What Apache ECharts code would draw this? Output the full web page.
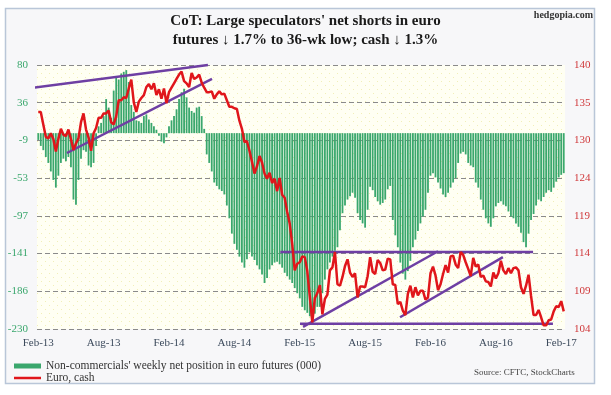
<!DOCTYPE html>
<html><head><meta charset="utf-8">
<script src="https://cdn.jsdelivr.net/npm/echarts@6/dist/echarts.min.js"></script>
<style>html,body{margin:0;padding:0;background:#fff}#c{width:611px;height:395px}</style>
</head><body><div id="c"></div>
<script>
// ---- data ----
const startDate = '2013-02-08';           // first weekly observation
const nWeeks = 210;
const xTickLabels = ['Feb-13','Aug-13','Feb-14','Aug-14','Feb-15','Aug-15','Feb-16','Aug-16','Feb-17'];
const leftTicks  = [-230,-186,-141,-97,-53,-9,36,80];
const rightTicks = [104,109,114,119,124,130,135,140];

// Non-commercials' weekly net position in euro futures (000)
const netPosition = [
 -8,-15,-20,-28,-35,-45,-55,-64,-50,-35,-30,-33,-28,-40,-78,-84,-55,-30,-20,-22,
 -38,-40,-35,-15,8,12,20,40,30,18,50,65,63,70,72,74,60,33,25,15,
 14,12,20,22,16,12,8,4,-3,-10,-12,-5,8,15,20,28,40,48,52,42,
 30,26,24,30,31,20,5,-25,-35,-45,-58,-62,-66,-68,-72,-85,-100,-118,-130,-137,
 -145,-152,-158,-148,-140,-145,-149,-155,-160,-166,-176,-170,-160,-155,-152,-151,-154,-158,-164,-168,
 -172,-176,-182,-188,-194,-204,-208,-211,-215,-219,-212,-204,-204,-188,-172,-160,-152,-145,-138,-134,
 -114,-94,-85,-78,-74,-70,-76,-94,-102,-106,-111,-90,-63,-67,-75,-80,-84,-82,-78,-66,
 -62,-102,-120,-134,-152,-165,-172,-162,-150,-134,-125,-115,-106,-98,-90,-70,-50,-47,-52,-58,
 -65,-72,-75,-70,-64,-58,-53,-35,-24,-22,-25,-35,-38,-40,-58,-64,-78,-90,-100,-106,
 -110,-100,-86,-82,-80,-84,-86,-92,-98,-100,-106,-110,-117,-128,-134,-118,-102,-95,-85,-78,
 -80,-75,-70,-67,-69,-64,-57,-52,-49,-47,-46
];

// Euro, cash (x100)
const euroCash = [
 133.6,133.6,131.9,130.2,130.0,130.7,129.9,128.2,129.9,131.3,130.5,130.3,131.2,129.9,128.4,129.3,130.0,132.2,133.4,131.2,
 130.1,128.3,130.7,131.4,132.8,132.8,133.4,133.4,133.8,132.2,131.9,133.0,135.2,135.2,135.6,135.5,136.8,138.0,134.9,133.6,
 135.0,135.5,135.9,137.0,137.4,136.7,137.5,
 135.9,136.7,135.4,136.8,134.8,136.3,136.9,137.5,138.1,138.7,139.1,137.8,137.5,137.0,138.9,138.1,138.3,138.7,137.6,136.9,
 136.3,136.3,136.4,135.4,136.0,136.4,136.0,136.1,135.2,134.3,134.3,134.1,134.0,132.4,131.3,129.5,129.6,128.3,126.8,125.2,
 126.2,127.6,126.7,125.2,124.5,125.3,123.9,124.5,122.8,124.6,122.3,121.9,
 120.0,118.4,115.6,112.0,112.9,113.1,113.9,113.8,111.9,108.4,104.9,108.2,108.9,110.0,106.0,108.1,108.7,112.0,112.4,114.5,
 110.1,109.9,111.1,112.6,113.5,111.7,111.1,111.6,108.3,109.8,109.8,109.7,111.2,113.8,111.8,111.5,113.4,113.0,112.0,112.1,
 113.6,113.5,110.1,110.0,107.4,107.7,106.5,105.9,108.8,109.9,108.3,109.7,
 108.6,109.2,109.2,108.0,108.3,111.6,112.5,111.3,109.3,110.1,111.5,112.7,111.7,113.9,114.0,112.8,112.3,114.5,114.1,113.1,
 112.2,111.2,113.7,112.5,112.8,111.1,111.3,110.5,110.4,109.8,111.7,110.9,111.6,113.3,112.0,111.5,112.3,111.6,112.3,112.4,
 112.0,109.7,108.8,109.9,111.4,108.5,105.9,105.9,106.6,105.6,104.5,104.5,105.2,
 105.3,106.4,107.1,107.0,107.8,106.4
];

// Trend lines drawn on the chart: [weekIndex, euro value] pairs
const trendLines = [
 [[-2.1,136.9],[67.5,140.0]],
 [[11.4,128.0],[69.1,138.1]],
 [[96.3,114.5],[196.8,114.5]],
 [[104.1,104.7],[204.7,104.7]],
 [[105.3,104.3],[159.0,114.6]],
 [[143.9,105.6],[184.8,113.8]]
];

const barName = "Non-commercials' weekly net position in euro futures (000)";
const lineName = 'Euro, cash';

// ---- build ----
const weeks = [];
{
  const d0 = new Date(startDate + 'T00:00:00Z');
  for (let i = 0; i < nWeeks; i++) {
    const d = new Date(d0.getTime() + i * 7 * 86400000);
    weeks.push(d.toISOString().slice(0, 10));
  }
}
const LMIN = -230, LMAX = 80, LINT = (LMAX - LMIN) / 7;
const RMIN = 104, RMAX = 140, RINT = (RMAX - RMIN) / 7;

// dotted plot background
const pat = document.createElement('canvas');
pat.width = 8; pat.height = 8;
{
  const g = pat.getContext('2d');
  g.fillStyle = '#fffff3'; g.fillRect(0, 0, 8, 8);
  g.fillStyle = '#f1efb8'; g.fillRect(1, 1, 1, 1); g.fillRect(5, 5, 1, 1);
}
const SERIF = '"Liberation Serif","DejaVu Serif",serif';
const GREEN = '#3aa76d', RED = '#e0161b', PURPLE = '#6e3fa3';

const chart = echarts.init(document.getElementById('c'), null, {renderer: 'canvas'});
const series = [
  {
    name: barName, type: 'bar', xAxisIndex: 0, yAxisIndex: 0,
    data: netPosition, barWidth: '72%',
    itemStyle: {color: GREEN}, animation: false, z: 2
  }
];
trendLines.forEach((tl, k) => {
  series.push({
    name: 'trend' + k, type: 'line', xAxisIndex: 1, yAxisIndex: 1,
    data: tl, showSymbol: false, symbol: 'none', clip: false,
    lineStyle: {color: PURPLE, width: 2.5}, animation: false, z: 3, silent: true
  });
});
series.push({
  name: lineName, type: 'line', xAxisIndex: 0, yAxisIndex: 1,
  data: euroCash, showSymbol: false, symbol: 'none',
  lineStyle: {color: RED, width: 2.5}, itemStyle: {color: RED},
  animation: false, z: 4
});

const legendText = {fontFamily: SERIF, fontSize: 11.5, color: '#333'};
chart.setOption({
  backgroundColor: '#fff',
  animation: false,
  title: {
    text: "CoT: Large speculators' net shorts in euro\nfutures \u2193 1.7% to 36-wk low; cash \u2193 1.3%",
    left: 'center', top: 7,
    textStyle: {fontFamily: SERIF, fontWeight: 'bold', fontSize: 15, color: '#1a1a1a', lineHeight: 19}
  },
  legend: [
    {left: 14, top: 358, padding: [2, 5, 2, 0], itemWidth: 27, itemHeight: 5, textStyle: legendText,
     data: [{name: barName, icon: 'rect'}]},
    {left: 14, top: 370, padding: [2, 5, 2, 0], itemWidth: 27, itemHeight: 2.5, textStyle: legendText,
     data: [{name: lineName, icon: 'rect', itemStyle: {color: RED}}]}
  ],
  grid: {left: 37, top: 65, width: 528, height: 264, show: true, borderWidth: 0,
         backgroundColor: {image: pat, repeat: 'repeat'}},
  xAxis: [
    {
      type: 'category', data: weeks, boundaryGap: true,
      axisLine: {show: false}, axisTick: {show: false},
      axisLabel: {
        interval: (i) => i % 26 === 0,
        formatter: (v, i) => xTickLabels[Math.round(i / 26)],
        fontFamily: SERIF, fontSize: 11, color: '#3c4a5c', margin: 9
      }
    },
    {type: 'value', min: -0.5, max: nWeeks - 0.5, show: false}
  ],
  yAxis: [
    {
      type: 'value', min: LMIN, max: LMAX, interval: LINT,
      axisLine: {show: false}, axisTick: {show: false},
      axisLabel: {formatter: (v) => leftTicks[Math.round((v - LMIN) / LINT)],
                  fontFamily: SERIF, fontSize: 11, color: '#3aa76d', margin: 9},
      splitLine: {show: true, lineStyle: {color: '#8a8a8a', type: [5, 3], width: 1}}
    },
    {
      type: 'value', min: RMIN, max: RMAX, interval: RINT, position: 'right',
      axisLine: {show: false}, axisTick: {show: false},
      axisLabel: {formatter: (v) => rightTicks[Math.round((v - RMIN) / RINT)],
                  fontFamily: SERIF, fontSize: 11, color: '#d0393b', margin: 9},
      splitLine: {show: false}
    }
  ],
  graphic: [
    {type: 'rect', shape: {x: 5.5, y: 8.5, width: 589, height: 375}, z: -10,
     style: {fill: '#f7f7f9', stroke: '#b9c6d8', lineWidth: 1.5}},
    {type: 'text', right: 18, top: 10, z: 10,
     style: {text: 'hedgopia.com', font: 'bold 10px ' + SERIF, fill: '#333'}},
    {type: 'text', left: 474, top: 368, z: 10,
     style: {text: 'Source: CFTC, StockCharts', font: '9px ' + SERIF, fill: '#444'}}
  ],
  series: series
});
</script></body></html>
